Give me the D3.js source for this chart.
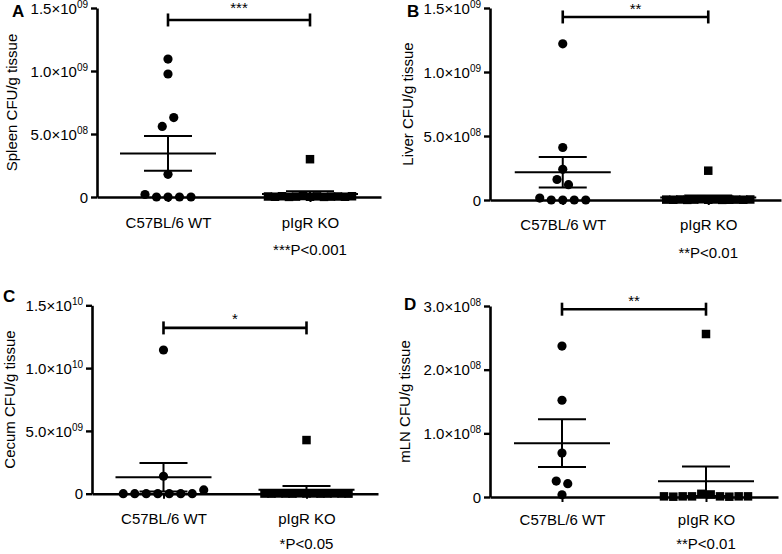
<!DOCTYPE html>
<html><head><meta charset="utf-8">
<script src="https://cdn.jsdelivr.net/npm/d3@7"></script>
<style>
body{margin:0;background:#fff}
svg{display:block}
text{font-family:"Liberation Sans",Arial,Helvetica,sans-serif;fill:#000}
</style>
</head><body>
<svg id="chart" width="782" height="554"></svg>
<script>
// ---------- data ----------
const groups = ["C57BL/6 WT", "pIgR KO"];
const panelLetters = ["A", "B", "C", "D"];
const yTitles = ["Spleen CFU/g tissue", "Liver CFU/g tissue", "Cecum CFU/g tissue", "mLN CFU/g tissue"];
const sigStars = ["***", "**", "*", "**"];
const pTexts = ["***P<0.001", "**P<0.01", "*P<0.05", "**P<0.01"];

const ticksSpleen = [0, 5e8, 1e9, 1.5e9];
const ticksLiver = [0, 5e8, 1e9, 1.5e9];
const ticksCecum = [0, 5e9, 1e10, 1.5e10];
const ticksMln = [0, 1e8, 2e8, 3e8];

const spleenWT = [1.095e9, 0.976e9, 0.56e9, 0.63e9, 0.18e9, 0.02e9, 0, 0, 0, 0];
const spleenKO = [0.30e9, 0.004e9, 0.002e9, 0.006e9, 0.001e9, 0.003e9, 0.008e9, 0.002e9, 0.005e9, 0.001e9, 0.003e9, 0.004e9, 0.002e9, 0.006e9];
const liverWT = [1.22e9, 0.41e9, 0.24e9, 0.16e9, 0.12e9, 0.015e9, 0, 0, 0, 0];
const liverKO = [0.229e9, 0.003e9, 0.002e9, 0.004e9, 0.001e9, 0.003e9, 0.006e9, 0.002e9, 0.004e9, 0.001e9, 0.002e9, 0.003e9, 0.002e9, 0.004e9];
const cecumWT = [11.44e9, 1.39e9, 0, 0, 0, 0, 0, 0, 0, 0.3e9];
const cecumKO = [4.27e9, 0.01e9, 0.005e9, 0.02e9, 0.01e9, 0.005e9, 0.03e9, 0.01e9, 0.02e9, 0.005e9, 0.01e9, 0.02e9, 0.01e9, 0.005e9];
const mlnWT = [2.37e8, 1.52e8, 0.69e8, 0.25e8, 0.21e8, 0.035e8];
const mlnKO = [2.56e8, 0.01e8, 0.005e8, 0.01e8, 0.01e8, 0.05e8, 0.04e8, 0.01e8, 0.005e8, 0.01e8, 0.01e8];

// ---------- layout (pixels) ----------
const layout = [
  {x0: 97,  x1: 381, yBottom: 197,   yTop: 8,     barV: 1.405e9, starDy: -7, letter: [12, 17],  catDy: 31, pY: 255, titleDx: -80},
  {x0: 490, x1: 781, yBottom: 200,   yTop: 8,     barV: 1.43e9,  starDy: -3, letter: [407, 17], catDy: 30, pY: 258, titleDx: -77},
  {x0: 92,  x1: 378, yBottom: 493.7, yTop: 305.3, barV: 1.32e10, starDy: -4, letter: [3, 302],  catDy: 30, pY: 549, titleDx: -77},
  {x0: 490, x1: 778, yBottom: 497,   yTop: 306,   barV: 2.95e8,  starDy: -3, letter: [404, 310], catDy: 28, pY: 549, titleDx: -80}
];
const panelData = [
  {ticks: ticksSpleen, wt: spleenWT, ko: spleenKO},
  {ticks: ticksLiver, wt: liverWT, ko: liverKO},
  {ticks: ticksCecum, wt: cecumWT, ko: cecumKO},
  {ticks: ticksMln, wt: mlnWT, ko: mlnKO}
];

const FONT = 15, SUP = 10;
const ROWH = 10, SPACING = 11.5, MAXSPAN = 84;
const MEAN_HW = 48, CAP_HW = 24;

const svg = d3.select("#chart");

function fmtTick(v) {
  if (v === 0) return {m: "0"};
  const e = Math.floor(Math.log10(v) + 1e-9);
  const m = v / Math.pow(10, e);
  return {m: m.toFixed(1) + "×10", sup: String(e).padStart(2, "0")};
}

function layoutPoints(vals, y, cx) {
  const pts = vals.map((v, i) => ({v, i, py: y(v)}));
  const sorted = pts.slice().sort((a, b) => a.py - b.py);
  const rows = [];
  let cur = null;
  for (const p of sorted) {
    if (!cur || p.py - cur.y0 > ROWH) { cur = {y0: p.py, pts: []}; rows.push(cur); }
    cur.pts.push(p);
  }
  rows.forEach(r => {
    r.pts.sort((a, b) => a.i - b.i);
    const n = r.pts.length;
    const step = n > 1 ? Math.min(SPACING, MAXSPAN / (n - 1)) : 0;
    r.pts.forEach((p, k) => p.px = cx + (k - (n - 1) / 2) * step);
  });
  return pts;
}

layout.forEach((L, pi) => {
  const D = panelData[pi];
  const g = svg.append("g");
  const x = d3.scalePoint().domain(groups).range([L.x0, L.x1]).padding(0.5);
  const y = d3.scaleLinear().domain([0, d3.max(D.ticks)]).range([L.yBottom, L.yTop]);

  // y axis
  const ya = g.append("g").attr("transform", `translate(${L.x0},0)`)
    .call(d3.axisLeft(y).tickValues(D.ticks).tickSize(6).tickSizeOuter(0).tickPadding(3));
  ya.select(".domain").attr("stroke", "#000").attr("stroke-width", 2.6);
  ya.selectAll(".tick line").attr("stroke", "#000").attr("stroke-width", 2.4);
  ya.selectAll(".tick text").each(function(d) {
    const f = fmtTick(d);
    const t = d3.select(this).text(null).attr("font-size", FONT).attr("font-family", null)
      .attr("dy", "0.35em").attr("x", -9);
    t.append("tspan").text(f.m);
    if (f.sup) t.append("tspan").attr("font-size", SUP).attr("dy", -6).text(f.sup);
  });

  // x axis
  const xa = g.append("g").attr("transform", `translate(0,${L.yBottom})`)
    .call(d3.axisBottom(x).tickSize(5).tickSizeOuter(0));
  xa.select(".domain").attr("stroke", "#000").attr("stroke-width", 2.6);
  xa.selectAll(".tick line").attr("stroke", "#000").attr("stroke-width", 2);
  xa.selectAll(".tick text").attr("font-size", FONT).attr("font-family", null)
    .attr("y", L.catDy).attr("dy", null);

  // y title
  g.append("text")
    .attr("transform", `translate(${L.x0 + L.titleDx},${(L.yTop + L.yBottom) / 2}) rotate(-90)`)
    .attr("text-anchor", "middle").attr("font-size", FONT).text(yTitles[pi]);

  // panel letter
  g.append("text").attr("x", L.letter[0]).attr("y", L.letter[1])
    .attr("font-size", 17).attr("font-weight", "bold").text(panelLetters[pi]);

  // points
  const wtPts = layoutPoints(D.wt, y, x(groups[0]));
  const koPts = layoutPoints(D.ko, y, x(groups[1]));
  g.append("g").selectAll("circle").data(wtPts).join("circle")
    .attr("cx", d => d.px).attr("cy", d => d.py).attr("r", 4.6).attr("fill", "#000");
  const S = 8.5;
  g.append("g").selectAll("rect").data(koPts).join("rect")
    .attr("x", d => d.px - S / 2).attr("y", d => d.py - S / 2)
    .attr("width", S).attr("height", S).attr("fill", "#000");

  // mean +/- SEM
  [D.wt, D.ko].forEach((vals, gi) => {
    const cx = x(groups[gi]);
    const m = d3.mean(vals);
    const sem = d3.deviation(vals) / Math.sqrt(vals.length);
    const eg = g.append("g").attr("stroke", "#000").attr("stroke-width", 2);
    eg.append("line").attr("x1", cx - MEAN_HW).attr("x2", cx + MEAN_HW).attr("y1", y(m)).attr("y2", y(m));
    eg.append("line").attr("x1", cx).attr("x2", cx).attr("y1", y(m - sem)).attr("y2", y(m + sem));
    eg.append("line").attr("x1", cx - CAP_HW).attr("x2", cx + CAP_HW).attr("y1", y(m + sem)).attr("y2", y(m + sem));
    eg.append("line").attr("x1", cx - CAP_HW).attr("x2", cx + CAP_HW).attr("y1", y(m - sem)).attr("y2", y(m - sem));
  });

  // significance bar
  const by = y(L.barV);
  const xa0 = x(groups[0]), xa1 = x(groups[1]);
  const sg = g.append("g").attr("stroke", "#000").attr("stroke-width", 2.6);
  sg.append("line").attr("x1", xa0).attr("x2", xa1).attr("y1", by).attr("y2", by);
  sg.append("line").attr("x1", xa0).attr("x2", xa0).attr("y1", by - 6.5).attr("y2", by + 6.5);
  sg.append("line").attr("x1", xa1).attr("x2", xa1).attr("y1", by - 6.5).attr("y2", by + 6.5);
  g.append("text").attr("x", (xa0 + xa1) / 2).attr("y", by + L.starDy)
    .attr("text-anchor", "middle").attr("font-size", FONT).text(sigStars[pi]);

  // p-value note
  g.append("text").attr("x", xa1).attr("y", L.pY)
    .attr("text-anchor", "middle").attr("font-size", FONT).text(pTexts[pi]);
});
</script>
</body></html>
